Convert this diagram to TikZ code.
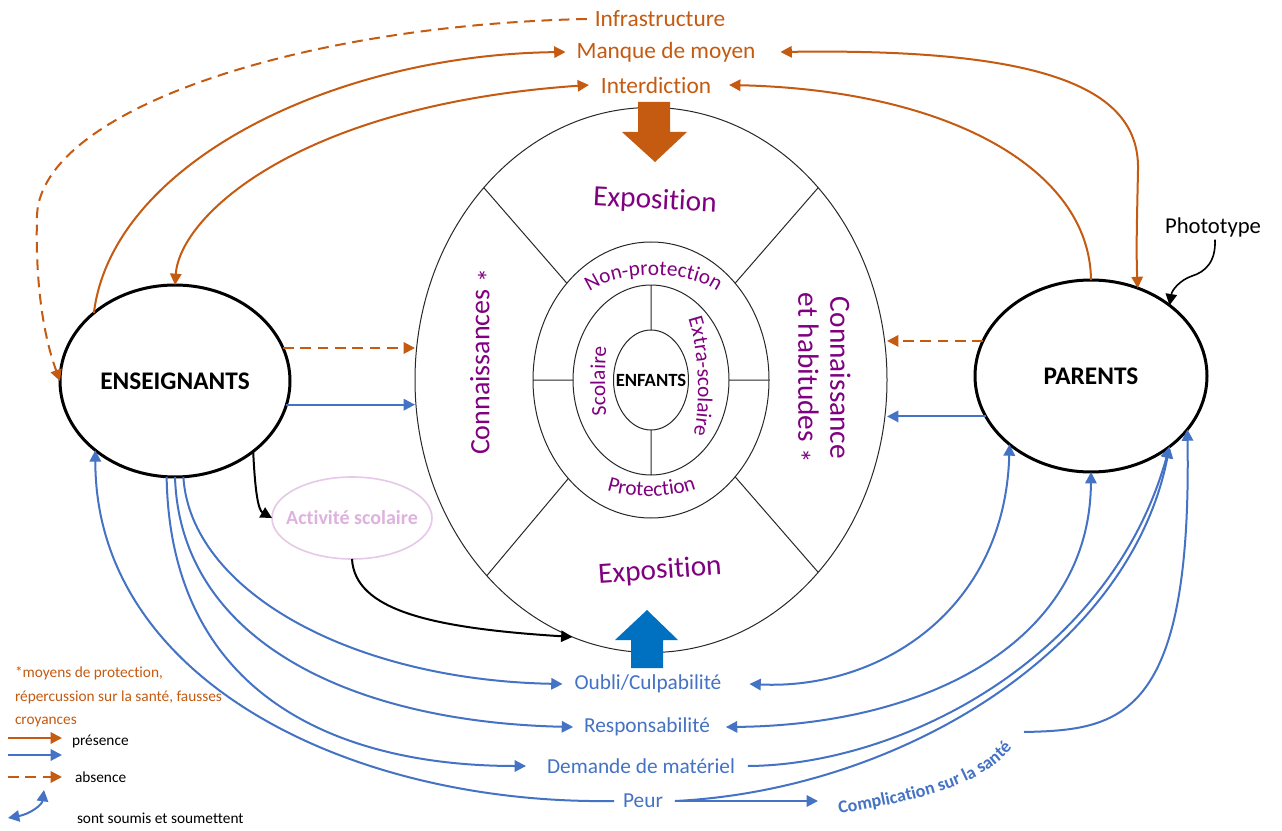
\documentclass[tikz,border=0pt]{standalone}
\usepackage{fontspec}
\setmainfont{Carlito}[Ligatures=NoCommon]
\usetikzlibrary{arrows.meta,shapes.geometric,calc,decorations.text}
\definecolor{org}{RGB}{197,90,17}
\definecolor{blu}{RGB}{68,114,196}
\definecolor{dblu}{RGB}{0,112,192}
\definecolor{purp}{RGB}{128,0,128}
\definecolor{lpurp}{RGB}{222,178,222}
\definecolor{lpline}{RGB}{230,200,232}
\definecolor{ringc}{RGB}{40,40,40}
\begin{document}
\begin{tikzpicture}[x=0.75pt,y=-0.75pt,
  every node/.style={inner sep=0pt, outer sep=0pt},
  olin/.style={draw=org, line width=1.5pt},
  blin/.style={draw=blu, line width=1.5pt},
  arr/.style={-{Triangle[length=8.5pt,width=8.5pt]}},
  darr/.style={{Triangle[length=8.5pt,width=8.5pt]}-{Triangle[length=8.5pt,width=8.5pt]}},
  dsh/.style={dash pattern=on 8pt off 5pt},
  actor/.style={draw=black, line width=2.25pt, ellipse, font=\fontsize{19}{22}\selectfont\bfseries},
  ringe/.style={draw=ringc, line width=0.75pt, ellipse},
  olab/.style={text=org, font=\fontsize{17.5}{20}\selectfont},
  blab/.style={text=blu, font=\fontsize{16}{19}\selectfont},
  plab/.style={text=purp, font=\fontsize{22}{22}\selectfont},
  leg/.style={font=\fontsize{11.5}{14}\selectfont, anchor=west},
  curvtxt/.style={decorate, decoration={text along path, text align=center, text={|\fontsize{16}{18}\selectfont\color{purp}|#1}}}
]
\fill[white] (0,0) rectangle (1282,831);
\useasboundingbox (0,0) rectangle (1282,831);

% central rings
\node[ringe, minimum width=354pt, minimum height=408.75pt] (big) at (651,380) {};
\node[ringe, minimum width=177pt, minimum height=207pt] (mid) at (651,380) {};
\node[ringe, minimum width=117pt, minimum height=142.5pt] (inn) at (651,380) {};
\node[ringe, minimum width=56.25pt, minimum height=75pt] (enf) at (651,380) {};
\node[font=\fontsize{14}{16}\selectfont\bfseries] (enftxt) at (651,380) {ENFANTS};
\draw[ringc, line width=0.75pt] (mid.131) -- (big.131) (mid.49) -- (big.49)
  (mid.230) -- (big.230) (mid.-49) -- (big.-49)
  (mid.west) -- (inn.west) (mid.east) -- (inn.east)
  (inn.north) -- (enf.north) (inn.south) -- (enf.south);

% block arrows
\fill[org] (638,102) -- (670,102) -- (670,132) -- (687,132) -- (655,162) -- (622,132) -- (638,132) -- cycle;
\fill[dblu] (631,668) -- (663,668) -- (663,640) -- (678,640) -- (647,610) -- (615,640) -- (631,640) -- cycle;

% purple labels
\node[plab, rotate=-3] (expT) at (655,201) {Exposition};
\node[plab, rotate=4] (expB) at (660,571) {Exposition};
\node[plab, font=\fontsize{21}{21}\selectfont, rotate=90] (conL) at (484,362) {Connaissances \raisebox{-0.3em}{*}};
\node[plab, font=\fontsize{22}{24}\selectfont, rotate=-90, align=center] (conR) at (820,378) {Connaissance\\et habitudes \raisebox{-0.3em}{*}};
\path[curvtxt=Non-protection] (583,297) .. controls (610,268) and (697,268) .. (724,297);
\path[curvtxt=Protection] (596,486) .. controls (625,500) and (677,500) .. (707,484);
\path[curvtxt=Scolaire] (608,428) .. controls (604,400) and (604,362) .. (608,334);
\path[curvtxt=Extra-scolaire] (683,306) .. controls (700,340) and (703,410) .. (690,449);

% actors
\node[actor, minimum width=172.5pt, minimum height=144pt] (ens) at (175,381) {ENSEIGNANTS};
\node[actor, minimum width=174pt, minimum height=144pt] (par) at (1091,376) {PARENTS};
\node[ellipse, draw=lpline, line width=1.2pt, minimum width=120pt, minimum height=61.5pt] (act) at (352,518) {};
\node[text=lpurp, font=\fontsize{15}{18}\selectfont\bfseries] (acttxt) at (act.center) {Activité scolaire};

% text labels
\node[olab] (infra) at (660,19) {Infrastructure};
\node[olab] (manque) at (666,52) {Manque de moyen};
\node[olab] (interd) at (656,85) {Interdiction};
\node[blab] (oubli) at (648,684) {Oubli/Culpabilité};
\node[blab] (resp) at (647,727) {Responsabilité};
\node[blab] (dem) at (641,766) {Demande de matériel};
\node[blab] (peur) at (643,801) {Peur};
\node[font=\fontsize{17}{20}\selectfont] (photo) at (1213,227) {Phototype};
\coordinate (compL) at (818,801);
\coordinate (compR) at (1024,732);
\path[decorate, decoration={text along path, text align=center, text={|\fontsize{13.5}{16}\selectfont\bfseries\color{blu}|Complication sur la santé}}] (826,816) .. controls (930,799) and (990,784) .. (1020,737);

% orange connectors
\draw[olin, arr] (ens.140) .. controls (112,165) and (330,55) .. ($(manque.west)+(-11,0)$);
\draw[olin, darr] ($(interd.west)+(-12,0)$) .. controls (300,105) and (180,215) .. (ens.north);
\draw[olin, arr] (par.north) .. controls (1090,170) and (950,90) .. ($(interd.east)+(18,0)$);
\draw[olin, darr] ($(manque.east)+(25,0)$) .. controls (1050,48) and (1140,90) .. (1138,170) .. controls (1137,220) and (1136,250) .. (par.62);
\draw[olin, dsh, arr] ($(infra.west)+(-8,0)$) .. controls (300,25) and (42,110) .. (37,215) .. controls (35,290) and (45,340) .. (ens.west);
\draw[olin, dsh, arr] (ens.17) -- (ens.17 -| big.west);
\draw[olin, dsh, arr] (par.162) -- (par.162 -| big.east);

% blue connectors
\draw[blin, arr] (ens.-12) -- (ens.-12 -| big.west);
\draw[blin, arr] (par.201) -- (par.201 -| big.east);
\draw[blin, arr] (ens.-85) .. controls (190,590) and (350,680) .. ($(oubli.west)+(-12,0)$);
\draw[blin, arr] (ens.-90) .. controls (180,640) and (350,722) .. ($(resp.west)+(-11,0)$);
\draw[blin, arr] (ens.-95) .. controls (170,690) and (330,766) .. ($(dem.west)+(-21,0)$);
\draw[blin, arr] ($(peur.west)+(-9,0)$) .. controls (350,805) and (95,680) .. (ens.221);
\draw[blin, darr] (par.220) .. controls (1005,610) and (880,690) .. ($(oubli.east)+(28,0)$);
\draw[blin, darr] (par.south) .. controls (1090,640) and (930,725) .. ($(resp.east)+(16,0)$);
\draw[blin, arr] ($(dem.east)+(13,0)$) .. controls (900,765) and (1110,660) .. (par.-42);
\draw[blin, arr] ($(peur.east)+(12,0)$) .. controls (900,790) and (1130,650) .. (par.-42);
\draw[blin, arr] ($(peur.east)+(12,0)$) -- (compL);
\draw[blin, arr] (compR) .. controls (1120,730) and (1192,720) .. (par.-29);

% black connectors
\draw[black, line width=1.5pt, arr] (ens.-42) .. controls (255,490) and (258,510) .. (act.west);
\draw[black, line width=1.5pt, arr] (act.south) .. controls (355,610) and (430,628) .. (big.253);
\draw[black, line width=1.2pt, arr] ($(photo.south)+(2,3)$) .. controls (1216,262) and (1205,272) .. (1192,276) .. controls (1180,280) and (1172,290) .. (par.42);

% legend
\node[leg, text=org, align=left, font=\fontsize{11.5}{17.5}\selectfont] (note) at (15,697) {*moyens de protection,\\répercussion sur la santé, fausses\\croyances};
\coordinate (l1a) at (8,738); \coordinate (l1b) at (62,738);
\coordinate (l2a) at (8,755); \coordinate (l2b) at (62,755);
\coordinate (l3a) at (8,777); \coordinate (l3b) at (62,777);
\coordinate (l4a) at (8,818); \coordinate (l4b) at (44,790);
\draw[olin, arr] (l1a) -- (l1b);
\draw[blin, arr] (l2a) -- (l2b);
\draw[olin, dsh, arr] (l3a) -- (l3b);
\draw[blin, darr] (l4a) .. controls (30,814) and (42,805) .. (l4b);
\node[leg] (pres) at (72,741) {présence};
\node[leg] (abs) at (75,777) {absence};
\node[leg] (soum) at (77,818) {sont soumis et soumettent};
\end{tikzpicture}
\end{document}
